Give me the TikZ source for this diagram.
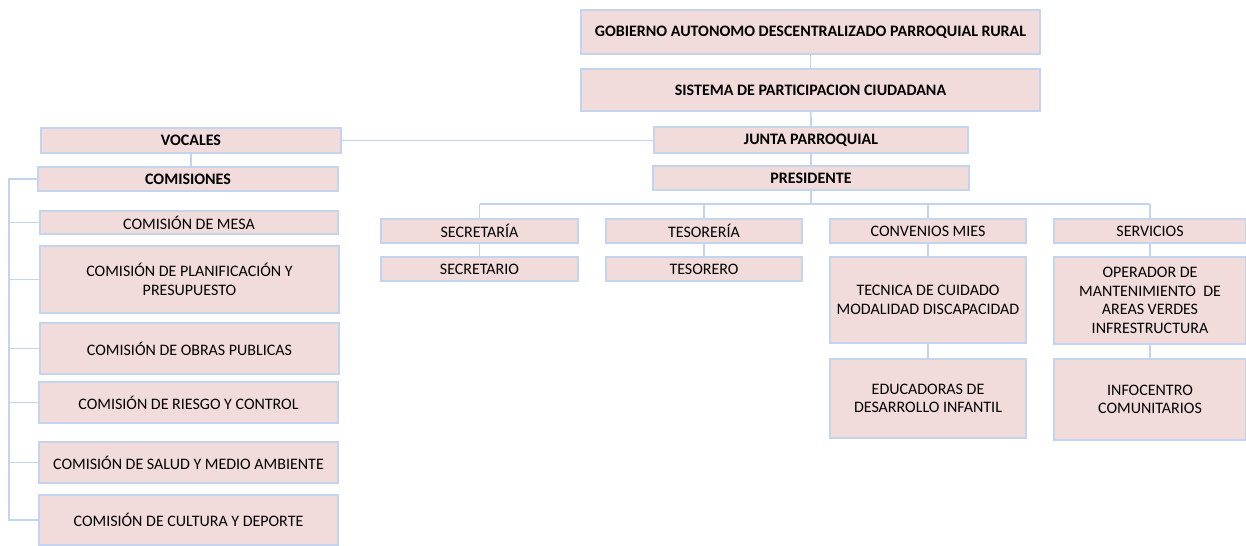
\documentclass[tikz,border=0pt]{standalone}
\usepackage{fontspec}
\setmainfont{Carlito}
\definecolor{boxfill}{HTML}{F2DCDB}
\definecolor{boxline}{HTML}{C3D4EE}
\tikzset{
    box/.style={draw=boxline, fill=boxfill, line width=1.1pt, align=center, inner sep=0pt,
        font=\fontsize{9.1}{10.5}\selectfont},
    head/.style={box, font=\fontsize{9.1}{10.5}\selectfont\bfseries},
    link/.style={draw=boxline, line width=1.1pt}
}
\begin{document}
\begin{tikzpicture}[x=0.02cm, y=-0.02cm]
    \useasboundingbox (0,0) rectangle (1246,545);
    \node (gad) at (810.5,32) [head, minimum width=9.18cm, minimum height=0.88cm] {GOBIERNO AUTONOMO DESCENTRALIZADO PARROQUIAL RURAL};
    \node (spc) at (810.5,90) [head, minimum width=9.18cm, minimum height=0.84cm] {SISTEMA DE PARTICIPACION CIUDADANA};
    \node (junta) at (811,140) [head, minimum width=6.28cm, minimum height=0.52cm] {JUNTA PARROQUIAL};
    \node (pres) at (811,178) [head, minimum width=6.32cm, minimum height=0.48cm] {PRESIDENTE};
    \node (vocales) at (191,140.5) [head, minimum width=6cm, minimum height=0.5cm] {VOCALES};
    \node (comisiones) at (188,179) [head, minimum width=6cm, minimum height=0.48cm] {COMISIONES};
    \node (mesa) at (189,222.5) [box, minimum width=5.96cm, minimum height=0.46cm] {COMISIÓN DE MESA};
    \node (plan) at (189.5,279.5) [box, minimum width=5.98cm, minimum height=1.34cm] {COMISIÓN DE PLANIFICACIÓN Y\\PRESUPUESTO};
    \node (obras) at (189.5,348.5) [box, minimum width=5.98cm, minimum height=1.02cm] {COMISIÓN DE OBRAS PUBLICAS};
    \node (riesgo) at (188.5,402.5) [box, minimum width=5.98cm, minimum height=0.82cm] {COMISIÓN DE RIESGO Y CONTROL};
    \node (salud) at (188.5,462.5) [box, minimum width=5.98cm, minimum height=0.82cm] {COMISIÓN DE SALUD Y MEDIO AMBIENTE};
    \node (cultura) at (188.5,520) [box, minimum width=5.98cm, minimum height=1cm] {COMISIÓN DE CULTURA Y DEPORTE};
    \node (sec) at (479.5,231) [box, minimum width=3.94cm, minimum height=0.48cm] {SECRETARÍA};
    \node (tes) at (704,231) [box, minimum width=3.92cm, minimum height=0.48cm] {TESORERÍA};
    \node (conv) at (928,231) [box, minimum width=3.92cm, minimum height=0.48cm] {CONVENIOS MIES};
    \node (serv) at (1150,231) [box, minimum width=3.84cm, minimum height=0.48cm] {SERVICIOS};
    \node (secretario) at (479.5,269) [box, minimum width=3.94cm, minimum height=0.48cm] {SECRETARIO};
    \node (tesorero) at (704,269) [box, minimum width=3.92cm, minimum height=0.48cm] {TESORERO};
    \node (tecnica) at (928,300) [box, minimum width=3.92cm, minimum height=1.72cm] {TECNICA DE CUIDADO\\MODALIDAD DISCAPACIDAD};
    \node (educadoras) at (928,398.5) [box, minimum width=3.92cm, minimum height=1.58cm] {EDUCADORAS DE\\DESARROLLO INFANTIL};
    \node (operador) at (1150,300.5) [box, minimum width=3.84cm, minimum height=1.74cm] {OPERADOR DE\\MANTENIMIENTO~ DE\\AREAS VERDES\\INFRESTRUCTURA};
    \node (info) at (1150,399.5) [box, minimum width=3.84cm, minimum height=1.62cm] {INFOCENTRO\\COMUNITARIOS};
    \coordinate (bus) at (0,204);
    \coordinate (rail) at (9,0);
    \draw [link] (gad) -- (spc);
    \draw [link] (spc) -- (junta);
    \draw [link] (junta) -- (pres);
    \draw [link] (vocales.east) -- (vocales.east -| junta.west);
    \draw [link] (vocales.south) -- (vocales.south |- comisiones.north);
    \draw [link] (pres.south) -- (pres.south |- bus);
    \draw [link] (sec.north |- bus) -- (serv.north |- bus);
    \foreach \n in {sec, tes, conv, serv}
        \draw [link] (\n.north) -- (\n.north |- bus);
    \draw [link] (sec) -- (secretario);
    \draw [link] (tes) -- (tesorero);
    \draw [link] (conv) -- (tecnica);
    \draw [link] (tecnica) -- (educadoras);
    \draw [link] (serv) -- (operador);
    \draw [link] (operador) -- (info);
    \draw [link] (comisiones.west) -- (rail |- comisiones.west) -- (rail |- cultura.west) -- (cultura.west);
    \foreach \n in {mesa, plan, obras, riesgo, salud}
        \draw [link] (\n.west) -- (rail |- \n.west);
\end{tikzpicture}
\end{document}
